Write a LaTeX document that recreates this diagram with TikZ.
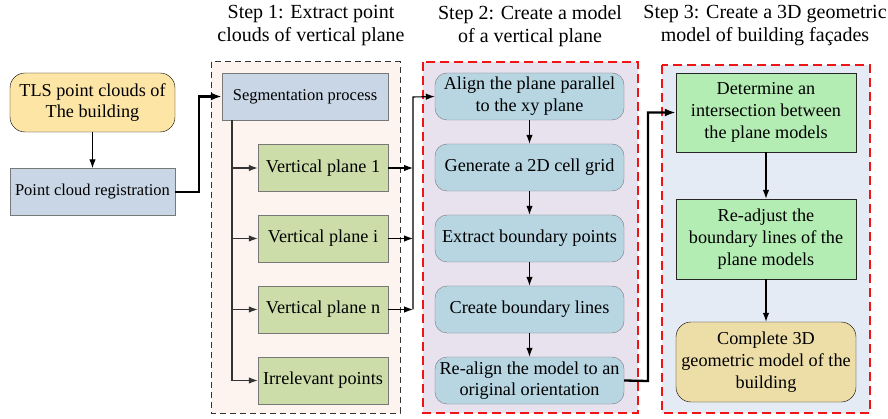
\documentclass[tikz,border=0pt]{standalone}
\usepackage{fontspec}
\setmainfont{Liberation Serif}
\usepackage{tikz}
\usetikzlibrary{arrows.meta}
\definecolor{jaune}{RGB}{253,229,166}
\definecolor{ardoise}{RGB}{201,214,230}
\definecolor{rose}{RGB}{253,244,240}
\definecolor{olive}{RGB}{205,221,170}
\definecolor{lavande}{RGB}{232,225,238}
\definecolor{ciel}{RGB}{183,214,226}
\definecolor{brume}{RGB}{229,235,244}
\definecolor{menthe}{RGB}{180,237,180}
\definecolor{sable}{RGB}{237,222,168}
\definecolor{grisb}{RGB}{120,120,120}
\definecolor{rouge}{RGB}{240,20,20}
\newcommand{\ftxt}{\fontsize{18.2}{21.7}\selectfont}
\newcommand{\fpetit}{\fontsize{16.5}{20}\selectfont}
\newcommand{\ftitre}{\fontsize{20}{23}\selectfont}

\begin{document}
\begin{tikzpicture}[x=1pt, y=-1pt,
  b/.style 2 args={rectangle, draw=grisb, fill=#1, minimum width=#2, minimum height=47pt,
                   inner sep=2pt, align=center, font=\ftxt},
  rb/.style={rounded corners=12pt},
  fl/.style={-{Latex[length=9pt, width=6.5pt]}, line width=1.1pt},
  gfl/.style={-{Latex[length=11pt, width=8pt]}, line width=2.3pt},
  titre/.style={align=center, font=\ftitre}]

\useasboundingbox (0,0) rectangle (888,419);

% ── cadres des étapes ──
\draw[fill=rose, draw=black!80, line width=1pt, dash pattern=on 6pt off 4pt] (211,62) rectangle (400,413);
\draw[fill=lavande, draw=rouge, line width=1.8pt, dash pattern=on 9pt off 5pt] (423,62) rectangle (638,413);
\draw[fill=brume, draw=rouge, line width=1.8pt, dash pattern=on 9pt off 5pt] (662,65) rectangle (870,413);

\node[titre] (t1) at (311,26) {Step 1: Extract point\\clouds of vertical plane};
\node[titre] (t2) at (530,26) {Step 2: Create a model\\of a vertical plane};
\node[titre] (t3) at (765,26) {Step 3: Create a 3D geometric\\model of building façades};

% ── entrée ──
\node[b={jaune}{165pt}, draw=black, rounded corners=15pt, minimum height=59pt] (tls) at (92.5,102.5)
  {TLS point clouds of\\The building};
\node[b={ardoise}{165pt}, font=\fpetit] (reg) at (92.5,192) {Point cloud registration};

% ── étape 1 ──
\node[b={ardoise}{166pt}, font=\fpetit] (seg) at (305,96.5) {Segmentation process};
\node[b={olive}{130pt}] (vp1) at (323,168) {Vertical plane 1};
\node[b={olive}{130pt}] (vpi) at (323,238.5) {Vertical plane i};
\node[b={olive}{130pt}] (vpn) at (323,309.5) {Vertical plane n};
\node[b={olive}{130pt}] (irr) at (323,380.5) {Irrelevant points};
\coordinate (tronc) at (232,120);
\coordinate (bus) at (413,97);
\coordinate (coude1) at (199,192);
\coordinate (coude2) at (648,381);

% ── étape 2 ──
\node[b={ciel}{189pt}, rb] (align) at (529.5,96.5) {Align the plane parallel\\to the xy plane};
\node[b={ciel}{189pt}, rb] (grid) at (529.5,167.5) {Generate a 2D cell grid};
\node[b={ciel}{189pt}, rb] (bpts) at (529.5,238.5) {Extract boundary points};
\node[b={ciel}{189pt}, rb] (blin) at (529.5,309.5) {Create boundary lines};
\node[b={ciel}{189pt}, rb] (realign) at (529.5,380.5) {Re-align the model to an\\original orientation};

% ── étape 3 ──
\node[b={menthe}{180pt}, draw=black!85, minimum height=79pt] (inter) at (766,112.5)
  {Determine an\\intersection between\\the plane models};
\node[b={menthe}{180pt}, draw=black!85, minimum height=80pt] (readj) at (766,239)
  {Re-adjust the\\boundary lines of the\\plane models};
\node[b={sable}{180pt}, draw=black, rounded corners=15pt, minimum height=80pt] (compl) at (766,362)
  {Complete 3D\\geometric model of the\\building};

% ── flèches ──
\draw[fl] (tls) -- (reg);
\draw[gfl] (reg.east) -- (coude1) |- (seg.west);
\draw[fl, draw=black!80] (tronc) |- (irr.west);
\draw[fl, draw=black!80] (tronc |- vp1) -- (vp1.west);
\draw[fl, draw=black!80] (tronc |- vpi) -- (vpi.west);
\draw[fl, draw=black!80] (tronc |- vpn) -- (vpn.west);
\draw[fl] (vp1.east) -- (bus |- vp1);
\draw[fl] (vpi.east) -- (bus |- vpi);
\draw[fl] (vpn.east) -- (bus |- vpn);
\draw[fl] (bus |- vpn) -- (bus) -- (align.west);
\draw[fl] (align) -- (grid);
\draw[fl] (grid) -- (bpts);
\draw[fl] (bpts) -- (blin);
\draw[fl] (blin) -- (realign);
\draw[gfl] (realign.east) -- (coude2) |- (inter.west);
\draw[fl] (inter) -- (readj);
\draw[fl] (readj) -- (compl);

\end{tikzpicture}
\end{document}
